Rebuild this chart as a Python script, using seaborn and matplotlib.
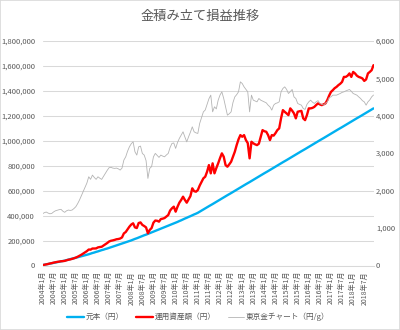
import numpy as np
import pandas as pd
import matplotlib
matplotlib.use("Agg")
import matplotlib.pyplot as plt
import seaborn as sns
from matplotlib.ticker import FuncFormatter, FixedLocator, MultipleLocator
from matplotlib.patches import Rectangle

# ---- data (monthly, 2004年1月 .. 2018年12月) ----
tick_labels = ["2004年1月", "2004年7月", "2005年1月", "2005年7月", "2006年1月", "2006年7月",
               "2007年1月", "2007年7月", "2008年1月", "2008年7月", "2009年1月", "2009年7月",
               "2010年1月", "2010年7月", "2011年1月", "2011年7月", "2012年1月", "2012年7月",
               "2013年1月", "2013年7月", "2014年1月", "2014年7月", "2015年1月", "2015年7月",
               "2016年1月", "2016年7月", "2017年1月", "2017年7月", "2018年1月", "2018年7月"]

# 元本 (thousand yen)
principal_k = [
    3, 6, 9, 12, 15, 18, 21, 24, 27, 30, 33, 36,
    39, 43, 47, 51, 55, 58, 62, 66, 70, 74, 78, 82,
    86, 90, 95, 100, 104, 109, 113, 118, 123, 127, 132, 136,
    141, 146, 151, 156, 161, 166, 171, 176, 181, 186, 191, 196,
    201, 207, 213, 218, 224, 230, 236, 242, 247, 253, 259, 265,
    271, 277, 283, 289, 295, 301, 307, 313, 319, 325, 331, 337,
    343, 349, 356, 362, 369, 376, 382, 389, 395, 402, 409, 415,
    422, 431, 439, 448, 457, 466, 475, 483, 492, 501, 510, 519,
    527, 536, 545, 554, 563, 571, 580, 589, 598, 607, 615, 624,
    633, 642, 651, 659, 668, 677, 686, 695, 703, 712, 721, 730,
    739, 747, 756, 765, 774, 783, 791, 800, 809, 818, 827, 835,
    844, 853, 862, 871, 879, 888, 897, 906, 915, 923, 932, 941,
    950, 959, 967, 976, 985, 994, 1003, 1011, 1020, 1029, 1038, 1047,
    1055, 1064, 1073, 1082, 1091, 1099, 1108, 1117, 1126, 1135, 1143, 1152,
    1161, 1170, 1179, 1187, 1196, 1205, 1214, 1223, 1231, 1240, 1249, 1258,
]

# 運用資産額 (thousand yen)
assets_k = [
    3, 6, 9, 12, 16, 19, 23, 26, 29, 31, 34, 35,
    37, 42, 46, 49, 53, 58, 63, 70, 78, 86, 96, 105,
    115, 128, 127, 136, 136, 137, 145, 148, 150, 160, 170, 180,
    192, 198, 201, 205, 210, 212, 216, 225, 257, 268, 290, 311,
    328, 338, 305, 300, 340, 345, 325, 316, 305, 258, 285, 300,
    343, 360, 358, 351, 372, 375, 380, 392, 404, 440, 458, 471,
    431, 470, 503, 525, 551, 525, 503, 530, 556, 618, 595, 591,
    604, 640, 670, 698, 711, 751, 804, 738, 818, 738, 780, 818,
    860, 898, 871, 804, 791, 810, 831, 870, 911, 964, 1010, 1044,
    1031, 1044, 1004, 980, 858, 991, 978, 970, 964, 975, 1030, 1084,
    1075, 1071, 1044, 1004, 1044, 1040, 1060, 1084, 1098, 1178, 1244, 1230,
    1218, 1204, 1258, 1240, 1218, 1178, 1231, 1235, 1238, 1178, 1164, 1204,
    1258, 1258, 1262, 1270, 1285, 1298, 1290, 1284, 1290, 1298, 1324, 1360,
    1390, 1404, 1420, 1430, 1444, 1455, 1470, 1510, 1510, 1520, 1538, 1510,
    1550, 1538, 1520, 1510, 1505, 1498, 1478, 1490, 1538, 1550, 1564, 1604,
]

# 東京金チャート (yen / g)
gold_price = [
    1380, 1410, 1427, 1400, 1380, 1390, 1430, 1460, 1475, 1490, 1499, 1450,
    1419, 1460, 1480, 1470, 1480, 1520, 1568, 1650, 1747, 1860, 1968, 2080,
    2200, 2368, 2300, 2413, 2350, 2299, 2368, 2330, 2299, 2380, 2459, 2540,
    2610, 2620, 2600, 2592, 2600, 2580, 2547, 2600, 2813, 2900, 3050, 3168,
    3250, 3301, 3035, 2947, 3168, 3187, 2990, 2947, 2800, 2325, 2592, 2640,
    2901, 2992, 2940, 2885, 2947, 2920, 2901, 2950, 2992, 3150, 3258, 3270,
    3125, 3280, 3392, 3480, 3568, 3430, 3301, 3435, 3560, 3701, 3568, 3540,
    3525, 3792, 3950, 4100, 4150, 4300, 4450, 4547, 4101, 4235, 4180, 4413,
    4550, 4635, 4458, 4235, 4013, 4050, 4101, 4350, 4500, 4560, 4635, 4901,
    4858, 4768, 4700, 4635, 4101, 4547, 4413, 4390, 4368, 4458, 4413, 4390,
    4368, 4342, 4280, 4235, 4147, 4280, 4325, 4340, 4368, 4635, 4725, 4768,
    4700, 4591, 4640, 4698, 4500, 4458, 4325, 4300, 4280, 4191, 4165, 4300,
    4368, 4413, 4360, 4325, 4368, 4400, 4325, 4300, 4280, 4330, 4368, 4480,
    4501, 4547, 4547, 4547, 4570, 4591, 4620, 4635, 4660, 4680, 4698, 4650,
    4591, 4570, 4547, 4500, 4458, 4400, 4368, 4280, 4368, 4420, 4500, 4550,
]

n = len(principal_k)
df = pd.DataFrame({
    "m": np.arange(n),
    "principal": np.array(principal_k) * 1000,
    "assets": np.array(assets_k) * 1000,
    "gold": gold_price,
})

sns.set_style("white")
plt.rcParams["font.family"] = ["Noto Sans CJK JP", "DejaVu Sans"]
TXT = "#595959"
GRID = "#D9D9D9"

W, H = 400, 330
fig = plt.figure(figsize=(W / 100, H / 100), dpi=100)
L, R, T, B = 42.5, 373.5, 40.7, 265.5
ax = fig.add_axes([L / W, 1 - B / H, (R - L) / W, (B - T) / H])
ax2 = ax.twinx()

sns.lineplot(data=df, x="m", y="principal", ax=ax, color="#00B0F0", linewidth=1.7,
             label="元本（円）")
sns.lineplot(data=df, x="m", y="assets", ax=ax, color="#FF0000", linewidth=1.7,
             label="運用資産額（円）")
sns.lineplot(data=df, x="m", y="gold", ax=ax2, color="#B4B4B4", linewidth=0.6,
             label="東京金チャート（円/g）")

ax.set_xlim(0, n - 1)
ax.set_ylim(0, 1800000)
ax2.set_ylim(0, 6000)
ax.yaxis.set_major_locator(MultipleLocator(200000))
ax2.yaxis.set_major_locator(MultipleLocator(1000))
fmt = FuncFormatter(lambda v, p: f"{int(round(v)):,}")
ax.yaxis.set_major_formatter(fmt)
ax2.yaxis.set_major_formatter(fmt)

ax.xaxis.set_major_locator(FixedLocator(list(range(0, 6 * len(tick_labels), 6))))
ax.set_xticklabels(tick_labels, rotation=90, va="top", ha="center")

ax.set_xlabel("")
ax.set_ylabel("")
ax2.set_ylabel("")

ax.yaxis.grid(True, color=GRID, linewidth=0.75)
ax.xaxis.grid(False)
ax.set_axisbelow(True)
for s in ["top", "left", "right"]:
    ax.spines[s].set_visible(False)
    ax2.spines[s].set_visible(False)
ax.spines["bottom"].set_color(GRID)
ax.spines["bottom"].set_linewidth(0.75)
ax2.spines["bottom"].set_visible(False)

ax.tick_params(axis="y", length=0, pad=5.4, labelsize=5.5, labelcolor=TXT)
ax2.tick_params(axis="y", length=0, pad=1.8, labelsize=5.5, labelcolor=TXT)
ax.tick_params(axis="x", length=0, pad=4, labelsize=5, labelcolor=TXT)

h1, l1 = ax.get_legend_handles_labels()
h2, l2 = ax2.get_legend_handles_labels()
ax.get_legend().remove()
ax2.get_legend().remove()
fig.legend(h1 + h2, l1 + l2, loc="center", bbox_to_anchor=(198.5 / W, 1 - 317 / H),
           ncol=3, frameon=False, fontsize=5.5, handlelength=2.2, handletextpad=0.2,
           columnspacing=1.6, labelcolor=TXT)

fig.text(0.5, 1 - 16 / H, "金積み立て損益推移", ha="center", va="center",
         fontsize=9.5, color=TXT)

fig.patches.append(Rectangle((0, 0), 1, 1, transform=fig.transFigure, fill=False,
                             edgecolor=GRID, linewidth=1.2))

fig.savefig("out.png", dpi=100)
